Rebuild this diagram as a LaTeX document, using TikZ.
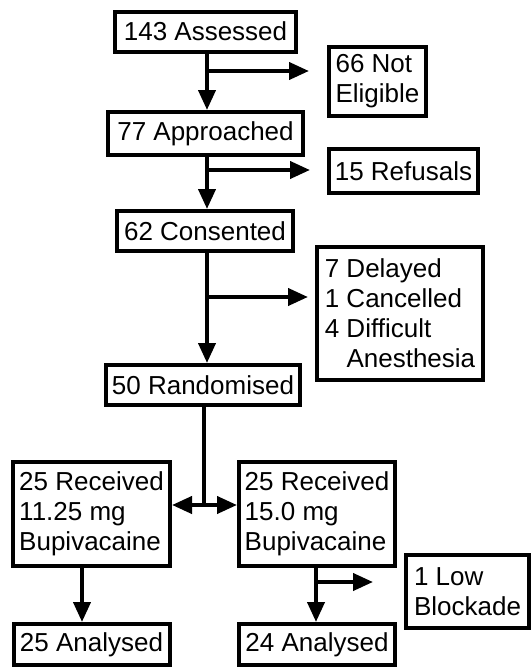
\documentclass[tikz,border=0pt]{standalone}
\usepackage{fontspec}
\setmainfont{Liberation Sans}
\usetikzlibrary{arrows.meta}
\tikzset{
    flowbox/.style={draw=black, line width=4pt, fill=white, inner sep=0pt,
        align=left, font=\fontsize{26}{30}\selectfont},
    flowline/.style={line width=4pt, -{Triangle[length=20pt,width=17pt]}},
    plainline/.style={line width=4pt}
}

\begin{document}
\begin{tikzpicture}[x=1pt,y=-1pt]
    \useasboundingbox (0,0) rectangle (532,667);

    % main column
    \node[flowbox, minimum width=181, minimum height=40] (assessed) at (205.5,31.5) {143 Assessed};
    \node[flowbox, minimum width=195, minimum height=43] (approached) at (205.5,133.5) {77 Approached};
    \node[flowbox, minimum width=176, minimum height=40] (consented) at (205,231) {62 Consented};
    \node[flowbox, minimum width=194, minimum height=40] (randomised) at (203,385) {50 Randomised};

    % exclusions
    \node[flowbox, minimum width=97, minimum height=69] (notelig) at (377.5,81.5) {66 Not\\Eligible};
    \node[flowbox, minimum width=149, minimum height=44] (refusals) at (403.5,171) {15 Refusals};
    \node[flowbox, minimum width=166, minimum height=133] (delayed) at (400,313.5) {7 Delayed\\1 Cancelled\\4 Difficult\\\hphantom{4 }Anesthesia};

    % arms
    \node[flowbox, minimum width=157, minimum height=104] (recA) at (91.5,514) {25 Received\\11.25 mg\\Bupivacaine};
    \node[flowbox, minimum width=156, minimum height=104] (recB) at (317,514) {25 Received\\15.0 mg\\Bupivacaine};
    \node[flowbox, minimum width=123, minimum height=73] (lowblock) at (467.5,591.5) {1 Low\\Blockade};
    \node[flowbox, minimum width=156, minimum height=41] (anaA) at (91.5,644.5) {25 Analysed};
    \node[flowbox, minimum width=156, minimum height=41] (anaB) at (317,644.5) {24 Analysed};

    % branch points
    \coordinate (b1) at (207,71);
    \coordinate (e1) at (309,71);
    \coordinate (b2) at (207,170);
    \coordinate (e2) at (310,170);
    \coordinate (b3) at (207,297);
    \coordinate (e3) at (308,297);
    \coordinate (split) at (204,505);
    \coordinate (armA) at (82,582);
    \coordinate (b4) at (316,582);
    \coordinate (e4) at (373,582);

    \draw[flowline] (assessed.south -| b1) -- (approached.north -| b1);
    \draw[flowline] (b1) -- (e1);
    \draw[flowline] (approached.south -| b2) -- (consented.north -| b2);
    \draw[flowline] (b2) -- (e2);
    \draw[flowline] (consented.south -| b3) -- (randomised.north -| b3);
    \draw[flowline] (b3) -- (e3);

    \draw[plainline] (randomised.south -| split) -- (split);
    \draw[flowline, {Triangle[length=20pt,width=17pt]}-{Triangle[length=20pt,width=17pt]}] (recA.east |- split) -- (recB.west |- split);

    \draw[flowline] (recA.south -| armA) -- (anaA.north -| armA);
    \draw[flowline] (recB.south -| b4) -- (anaB.north -| b4);
    \draw[flowline] (b4) -- (e4);
\end{tikzpicture}
\end{document}
